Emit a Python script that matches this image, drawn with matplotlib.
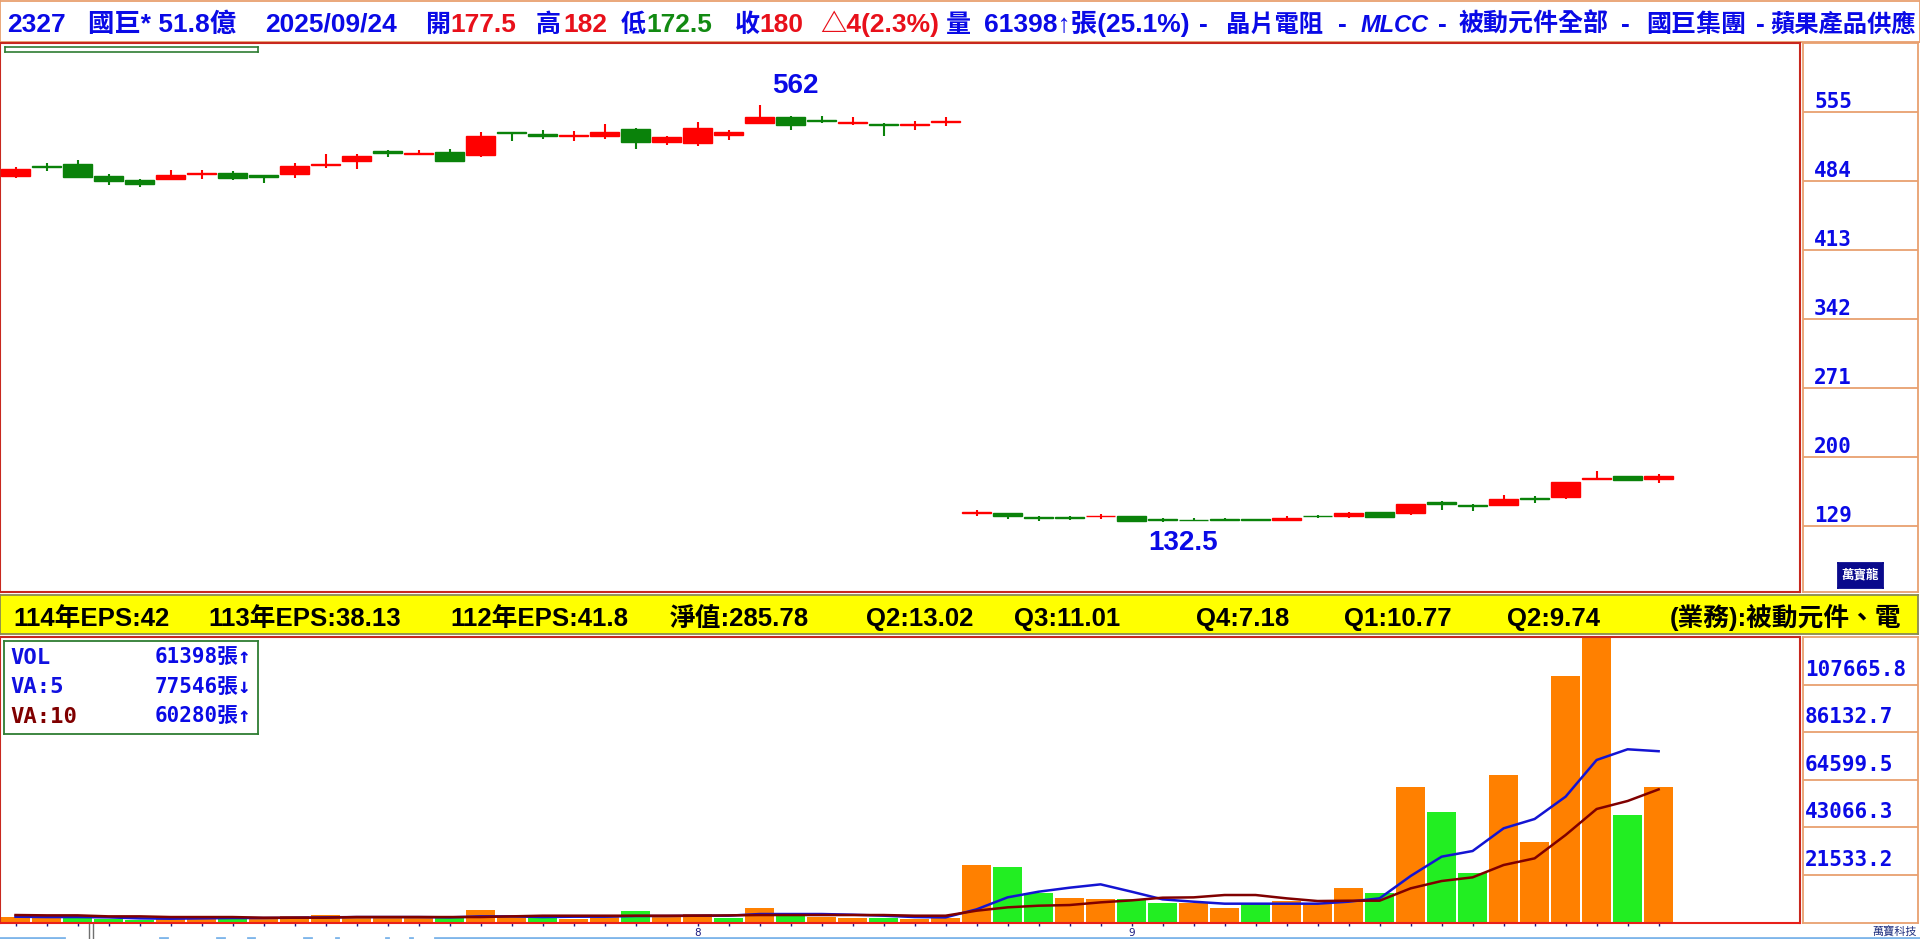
import numpy as np
import matplotlib
matplotlib.use("Agg")
import matplotlib.pyplot as plt
from matplotlib.lines import Line2D

# --- data ---
opens = [489, 499, 501, 489, 484.5, 486, 491, 491.5, 489.5, 491, 500, 504.5, 514.5, 511, 513.5,
         510, 534, 532, 530, 529.5, 537, 523.5, 523, 531.5, 543, 549.5, 546.5, 543.5, 542, 541, 544.5,
         142, 142.5, 138, 138, 138.5, 139, 135.5, 135, 135.5, 136, 135, 139.5, 138.5, 143.5,
         142.5, 153, 150.5, 150, 158, 159, 177, 180.5, 177.5]
highs = [498, 502, 505, 490.5, 486, 495, 495, 494, 490, 502, 511.5, 511.5, 516, 516, 517,
         534, 534, 536, 535.5, 542, 538, 530, 544.5, 536, 562, 551, 550.5, 549.5, 543, 545, 549.5,
         145.5, 142.5, 139, 139, 141.5, 139, 137, 137, 137, 136, 139, 140, 143.5, 143.5,
         151.5, 154, 151.5, 161, 159.5, 174, 185, 180.5, 182]
lows = [487, 494, 487, 480, 478, 484.5, 486, 485, 482, 487, 497, 496.5, 508, 510, 503,
        508, 525, 527, 525, 527, 517, 521, 520, 526, 542, 536, 543, 541.5, 530.5, 536, 540.5,
        138.5, 135.5, 134, 135, 136, 133, 132.5, 134, 133.5, 133.5, 134, 137, 136.5, 136.5,
        140, 145.5, 144.5, 149.5, 152.5, 157, 176, 175.5, 172.5]
closes = [496, 498, 488, 484, 481, 490, 492, 487, 488, 499, 501, 509.5, 512, 512.5, 504.5,
          530, 533, 529.5, 531, 534, 523.5, 529, 538, 534.5, 549.5, 541, 545, 544.5, 541, 542, 545.5,
          143, 138.5, 136.5, 136.5, 139.5, 134, 134.5, 134.5, 134.5, 134.5, 137, 138.5, 142.5, 137.5,
          151, 151.5, 149, 156, 157, 173.5, 178.5, 176, 180]

volumes = [2410, 2260, 1960, 1510, 1060, 1510, 1510, 1960, 1510, 2870, 3320, 1960, 1960, 1960, 1960,
           5580, 2710, 1960, 1510, 2710, 5280, 2560, 3770, 1960, 6480, 3170, 2410, 1960, 1960, 1510, 1960,
           26090, 25330, 13570, 11310, 10860, 10860, 9050, 9050, 6790, 9050, 9800, 9050, 15830, 13570,
           61530, 50220, 22620, 66800, 36640, 111590, 129199, 48710, 61398]
vol_colors = "OOGGGOOGOOOOOOGOOGOOGOOGOGOOGOO" + "OGGOOGGOOGOOOGOGGOOOOGO"

va5 = [2710, 2560, 2560, 2410, 1960, 1810, 1960, 2110, 2110, 2260, 2410, 2560, 2560, 2560, 2410,
       2870, 2870, 2560, 2710, 2710, 3020, 3020, 3170, 3170, 3920, 3920, 3920, 3620, 3170, 2560, 2410,
       6030, 11460, 14020, 15830, 17340, 14020, 10560, 9500, 8600, 8600, 8600, 8600, 9500, 11010,
       21110, 29860, 32420, 42680, 46900, 57000, 73590, 78420, 77546]
va10 = [3470, 3320, 3320, 2870, 2870, 2560, 2560, 2560, 2260, 2260, 2260, 2560, 2560, 2560, 2560,
        2560, 2870, 3170, 3170, 3170, 3170, 3170, 3170, 3320, 3470, 3470, 3470, 3470, 3470, 3170, 3170,
        5430, 6940, 7690, 7990, 9200, 10100, 11310, 11460, 12520, 12520, 11010, 9800, 9950, 9950,
        15530, 18850, 20510, 26090, 29100, 39660, 51420, 55040, 60280]

price_ticks = [129, 200, 271, 342, 413, 484, 555]
vol_ticks = [21533.2, 43066.3, 64599.5, 86132.7, 107665.8]
vol_tick_labels = ["21533.2", "43066.3", "64599.5", "86132.7", "107665.8"]
vol_top = 129199.0
month_pos = [22, 36]
month_labels = ["8", "9"]

# (x px, text, colour key, font size)
title_parts = [(7, "2327", "b", 19), (88, "國巨* 51.8億", "b", 19), (265, "2025/09/24", "b", 19),
               (425, "開", "b", 18), (450, "177.5", "r", 19), (536, "高", "b", 18), (563, "182", "r", 19),
               (621, "低", "b", 18), (646, "172.5", "g", 19), (735, "收", "b", 18), (759, "180", "r", 19),
               (820, "△4(2.3%)", "r", 19), (946, "量", "b", 18), (984, "61398↑張(25.1%)", "b", 19),
               (1199, "-", "b", 19), (1226, "晶片電阻", "b", 17.5), (1338, "-", "b", 19),
               (1361, "MLCC", "i", 17), (1438, "-", "b", 19), (1459, "被動元件全部", "b", 18),
               (1621, "-", "b", 19), (1646, "國巨集團", "b", 18), (1756, "-", "b", 19)]
title_tail = "蘋果產品供應"
eps_parts = [(13, "114年EPS:42"), (208, "113年EPS:38.13"), (450, "112年EPS:41.8"),
             (670, "淨值:285.78"), (866, "Q2:13.02"), (1014, "Q3:11.01"), (1196, "Q4:7.18"),
             (1344, "Q1:10.77"), (1507, "Q2:9.74"), (1670, "(業務):被動元件、電")]
legend_rows = [("VOL", "61398張↑", "#1010E0"), ("VA:5", "77546張↓", "#1010E0"), ("VA:10", "60280張↑", "#800000")]

# colours
RED = "#FF0000"
GRN = "#0A820A"
BLUE = "#0A0AE6"
ORANGE_LINE = "#E8A070"
PANEL_RED = "#C8281E"
NAVY = "#0A0A8C"
tcol = {"b": BLUE, "r": "#E8101A", "g": "#128A12", "i": BLUE}

CJK = ["Liberation Sans", "Noto Sans CJK TC", "DejaVu Sans"]
MONO = ["DejaVu Sans Mono", "Noto Sans CJK TC"]

W, H = 1920, 939
fig = plt.figure(figsize=(W / 100, H / 100), dpi=100)
fig.patch.set_facecolor("white")


def box(x0, y0, x1, y1, edge, lw=1.3, face="white"):
    # axes placed by pixel box, origin at top-left
    a = fig.add_axes([x0 / W, 1 - y1 / H, (x1 - x0) / W, (y1 - y0) / H])
    a.set_facecolor(face)
    for s in a.spines.values():
        s.set_color(edge)
        s.set_linewidth(lw)
    a.set_xticks([])
    a.set_yticks([])
    return a


# --- title bar ---
tb = box(0, 1, 1920, 42, ORANGE_LINE)
tb.set_xlim(0, 1920)
tb.set_ylim(41, 0)
for px, s, k, fs in title_parts:
    tb.text(px, 31, s, color=tcol[k], fontsize=fs, fontweight="bold", family=CJK,
            style="italic" if k == "i" else "normal", va="baseline", ha="left", clip_on=True)
tb.text(1916, 31, title_tail, color=BLUE, fontsize=17.5, fontweight="bold", family=CJK,
        va="baseline", ha="right", clip_on=True)

# --- price panel ---
n = len(opens)
x = np.arange(n)
o = np.array(opens)
c = np.array(closes)
cols = np.where(c >= o, RED, GRN)

XL = (-0.5, 57.56)
PYL = (60.8, 625.7)

ax = box(0, 43, 1800, 592, PANEL_RED, lw=1.5)
ax.set_xlim(*XL)
ax.set_ylim(*PYL)
ax.vlines(x, lows, highs, colors=cols, lw=1.5, zorder=2)
ax.bar(x, c - o, bottom=o, width=0.92, color=cols, edgecolor=cols, lw=1, zorder=3)

hi = int(np.argmax(highs))
lo = int(np.argmin(lows))
ax.annotate(f"{highs[hi]:g}", (hi, highs[hi]), xytext=(36, 19), textcoords="offset pixels",
            ha="center", va="center", fontsize=20, fontweight="bold", color=BLUE, family="Liberation Sans")
ax.annotate(f"{lows[lo]:g}", (lo, lows[lo]), xytext=(20, -21), textcoords="offset pixels",
            ha="center", va="center", fontsize=20, fontweight="bold", color=BLUE, family="Liberation Sans")

# little green bar at top-left
gb = box(5, 47, 258, 52, "#2E7D32", lw=1.2)

# right price scale
axr = box(1803, 43, 1918, 592, ORANGE_LINE)
axr.set_ylim(*PYL)
axr.set_yticks(price_ticks, [str(t) for t in price_ticks])
axr.tick_params(axis="y", length=0, pad=-8)
for lab in axr.get_yticklabels():
    lab.set_ha("left")
    lab.set_va("bottom")
    lab.set_family(MONO)
    lab.set_fontweight("bold")
    lab.set_fontsize(15)
    lab.set_color(BLUE)
axr.grid(axis="y", color=ORANGE_LINE, lw=1.3)

logo = box(1838, 563, 1883, 588, NAVY, face=NAVY)
logo.text(0.5, 0.5, "萬寶龍", color="white", fontsize=9, fontweight="bold", family="Noto Sans CJK TC",
          ha="center", va="center", transform=logo.transAxes)

# --- EPS strip ---
eb = box(0, 595, 1918, 634, "#8A8A50", face="#FFFF00")
eb.set_xlim(0, 1918)
eb.set_ylim(39, 0)
for px, s in eps_parts:
    eb.text(px, 31, s, color="black", fontsize=18.5, fontweight="bold", family=CJK,
            va="baseline", ha="left", clip_on=True)

# --- volume panel ---
axv = box(0, 637, 1800, 922.7, PANEL_RED, lw=1.5)
axv.set_xlim(*XL)
axv.set_ylim(0, vol_top)
vcols = ["#FF8000" if k == "O" else "#22EE22" for k in vol_colors]
axv.bar(x, volumes, width=0.94, color=vcols, lw=0, zorder=2)
axv.plot(x, va5, color="#1414D2", lw=1.8, zorder=3)
axv.plot(x, va10, color="#800000", lw=1.8, zorder=3)
axv.spines["bottom"].set_color("#E8201A")
axv.set_xticks(x, minor=True)
axv.set_xticks(month_pos, month_labels)
axv.tick_params(axis="x", which="both", direction="out", length=2.5, width=1, color="#1A1A80",
                labelsize=7.5, labelcolor="#1A1A80", pad=1.5)

axvr = box(1803, 637, 1918, 922.7, ORANGE_LINE)
axvr.set_ylim(0, vol_top)
axvr.set_yticks(vol_ticks)
axvr.tick_params(axis="y", length=0, labelleft=False)
axvr.grid(axis="y", color=ORANGE_LINE, lw=1.3)
for v, s in zip(vol_ticks, vol_tick_labels):
    axvr.annotate(s, (0, v), xycoords=("axes fraction", "data"), xytext=(2, 5), textcoords="offset pixels",
                  ha="left", va="bottom", fontsize=15, fontweight="bold", family=MONO, color=BLUE)

# legend box
lg = box(4, 641, 258, 734, "#2E7D32", lw=1.3)
lg.set_xlim(4, 258)
lg.set_ylim(734, 641)
for i, (name, val, colr) in enumerate(legend_rows):
    yb = 664.3 + i * 29.2
    lg.text(10, yb, name, color=colr, fontsize=16, fontweight="bold", family=MONO, va="baseline", ha="left")
    lg.text(251, yb, val, color=BLUE, fontsize=15, fontweight="bold", family=MONO, va="baseline", ha="right")

# bottom bits
fig.text(1917 / W, 1 - 932 / H, "萬寶科技", color="#203080", fontsize=8, family="Noto Sans CJK TC",
         ha="right", va="center")
for xa, xb in [(0, 64), (160, 167), (217, 224), (248, 254), (304, 311), (336, 338),
               (386, 388), (410, 412), (435, 1920)]:
    fig.add_artist(Line2D([xa / W, xb / W], [1 - 938 / H] * 2, color="#7EB6EA", lw=2))
for xm in (89, 93):
    fig.add_artist(Line2D([xm / W] * 2, [1 - 924 / H, 0], color="#707070", lw=1))

fig.savefig("out.png", dpi=100)
